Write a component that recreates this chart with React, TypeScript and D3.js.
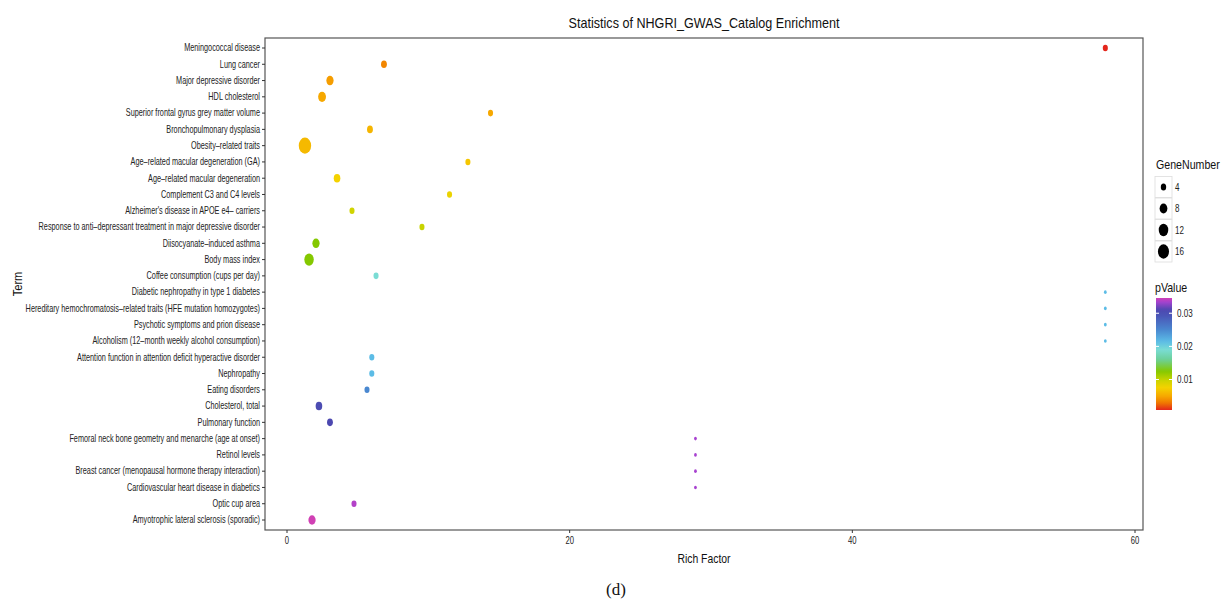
import React from "react";
import * as d3 from "d3";

const terms = [
  "Meningococcal disease",
  "Lung cancer",
  "Major depressive disorder",
  "HDL cholesterol",
  "Superior frontal gyrus grey matter volume",
  "Bronchopulmonary dysplasia",
  "Obesity\u2013related traits",
  "Age\u2013related macular degeneration (GA)",
  "Age\u2013related macular degeneration",
  "Complement C3 and C4 levels",
  "Alzheimer's disease in APOE e4\u2013 carriers",
  "Response to anti\u2013depressant treatment in major depressive disorder",
  "Diisocyanate\u2013induced asthma",
  "Body mass index",
  "Coffee consumption (cups per day)",
  "Diabetic nephropathy in type 1 diabetes",
  "Hereditary hemochromatosis\u2013related traits (HFE mutation homozygotes)",
  "Psychotic symptoms and prion disease",
  "Alcoholism (12\u2013month weekly alcohol consumption)",
  "Attention function in attention deficit hyperactive disorder",
  "Nephropathy",
  "Eating disorders",
  "Cholesterol, total",
  "Pulmonary function",
  "Femoral neck bone geometry and menarche (age at onset)",
  "Retinol levels",
  "Breast cancer (menopausal hormone therapy interaction)",
  "Cardiovascular heart disease in diabetics",
  "Optic cup area",
  "Amyotrophic lateral sclerosis (sporadic)",
];

const richFactor = [
  57.9, 6.86, 3.04, 2.48, 14.4, 5.87, 1.27, 12.8, 3.54, 11.5,
  4.6, 9.55, 2.05, 1.56, 6.3, 57.9, 57.9, 57.9, 57.9, 6.0,
  6.0, 5.66, 2.26, 3.04, 28.9, 28.9, 28.9, 28.9, 4.74, 1.77,
];

const geneNumber = [
  3, 4, 6, 7, 3, 4, 17, 3, 5, 3,
  3, 3, 6, 10, 3, 1, 1, 1, 1, 3,
  3, 3, 5, 4, 1, 1, 1, 1, 3, 6,
];

const pValue = [
  0.0008, 0.0035, 0.0045, 0.005, 0.005, 0.0058, 0.006, 0.0068, 0.0075, 0.008,
  0.0095, 0.0098, 0.0125, 0.0125, 0.019, 0.0215, 0.0215, 0.0215, 0.0215, 0.0215,
  0.0215, 0.025, 0.0305, 0.031, 0.0335, 0.0335, 0.0335, 0.0335, 0.0338, 0.0346,
];

const xTicks = [0, 20, 40, 60];
const sizeBreaks = [4, 8, 12, 16];
const pBreaks = [0.01, 0.02, 0.03];

const colorStops = [0.0008, 0.003, 0.005, 0.0075, 0.0095, 0.0125, 0.016, 0.019, 0.0215, 0.025, 0.029, 0.031, 0.0335, 0.0346];
const colorValues = ["#e4261c", "#f07a00", "#f6a800", "#f4d200", "#d0d400", "#84c800", "#6cd098", "#7adcd4", "#5cbce6", "#4a88d0", "#4a58b8", "#4c48b0", "#a842d0", "#d040b4"];

const FONT = "'Liberation Sans', Arial, sans-serif";
const SX = 0.73;
const STRETCH = 1.3;

export default function App() {
  const W = 1225, H = 610;
  const panel = { left: 265, right: 1143, top: 38, bottom: 530 };
  const x = d3.scaleLinear().domain([0, 60]).range([287, 1135]);
  const y = d3.scalePoint<string>().domain(terms).range([48, 520]);
  const r = d3.scaleSqrt().domain([1, 17]).range([1.4, 6.2]);
  const color = d3.scaleLinear<string>().domain(colorStops).range(colorValues).interpolate(d3.interpolateRgb).clamp(true);
  const pScale = d3.scaleLinear().domain([0.0008, 0.0346]).range([410, 298]);
  const gradStops = d3.range(0, 1.0001, 0.02).map((t) => {
    const v = 0.0008 + t * (0.0346 - 0.0008);
    return { off: t, c: color(v) };
  });
  const midX = (panel.left + panel.right) / 2;

  return (
    <svg width={W} height={H} style={{ position: "absolute", left: 0, top: 0, background: "#fff" }} fontFamily={FONT}>
      <defs>
        <linearGradient id="pgrad" x1="0" y1="1" x2="0" y2="0">
          {gradStops.map((s, i) => (
            <stop key={i} offset={s.off} stopColor={s.c} />
          ))}
        </linearGradient>
      </defs>
      <rect x={0} y={0} width={W} height={H} fill="#fff" />
      {/* title */}
      <text transform={`translate(${midX},28) scale(0.9,1)`} textAnchor="middle" fontSize={14} fill="#111">
        Statistics of NHGRI_GWAS_Catalog Enrichment
      </text>
      {/* panel */}
      <rect x={panel.left} y={panel.top} width={panel.right - panel.left} height={panel.bottom - panel.top} fill="#fff" stroke="#555" strokeWidth={1.2} />
      {/* y ticks and labels */}
      {terms.map((t) => (
        <g key={t}>
          <line x1={panel.left - 3} x2={panel.left} y1={y(t)} y2={y(t)} stroke="#333" strokeWidth={1} />
          <text transform={`translate(${panel.left - 5},${(y(t) as number) + 3.3}) scale(${SX},1)`} textAnchor="end" fontSize={10} fill="#222">
            {t}
          </text>
        </g>
      ))}
      {/* x ticks */}
      {xTicks.map((v) => (
        <g key={v}>
          <line x1={x(v)} x2={x(v)} y1={panel.bottom} y2={panel.bottom + 3} stroke="#333" />
          <text transform={`translate(${x(v)},${panel.bottom + 14}) scale(${SX},1)`} textAnchor="middle" fontSize={10.5} fill="#222">
            {v}
          </text>
        </g>
      ))}
      {/* points */}
      {terms.map((t, i) => (
        <ellipse key={t} cx={x(richFactor[i])} cy={y(t)} rx={r(geneNumber[i])} ry={r(geneNumber[i]) * STRETCH} fill={color(pValue[i])} />
      ))}
      {/* axis titles */}
      <text transform={`translate(${midX},563) scale(0.8,1)`} textAnchor="middle" fontSize={13} fill="#111">
        Rich Factor
      </text>
      <text transform={`translate(22,${(panel.top + panel.bottom) / 2}) rotate(-90) scale(0.85,1)`} textAnchor="middle" fontSize={13} fill="#111">
        Term
      </text>
      {/* legend: GeneNumber */}
      <text transform={`translate(1156,169) scale(0.85,1)`} fontSize={12.5} fill="#111">
        GeneNumber
      </text>
      {sizeBreaks.map((s, i) => {
        const cy = 187 + i * 21.5;
        return (
          <g key={s}>
            <rect x={1155} y={cy - 10.5} width={17} height={21} fill="#fff" stroke="#ddd" strokeWidth={0.8} />
            <ellipse cx={1163.5} cy={cy} rx={r(s) * 0.92} ry={r(s) * 0.92 * STRETCH} fill="#000" />
            <text transform={`translate(1175,${cy + 3.5}) scale(${SX},1)`} fontSize={11} fill="#222">
              {s}
            </text>
          </g>
        );
      })}
      {/* legend: pValue */}
      <text transform={`translate(1155,292) scale(0.85,1)`} fontSize={12.5} fill="#111">
        pValue
      </text>
      <rect x={1156} y={298} width={16} height={112} fill="url(#pgrad)" />
      {pBreaks.map((p) => (
        <g key={p}>
          <line x1={1156} x2={1159} y1={pScale(p)} y2={pScale(p)} stroke="#fff" strokeWidth={1} />
          <line x1={1169} x2={1172} y1={pScale(p)} y2={pScale(p)} stroke="#fff" strokeWidth={1} />
          <text transform={`translate(1177,${pScale(p) + 3.5}) scale(${SX},1)`} fontSize={11} fill="#222">
            {p.toFixed(2)}
          </text>
        </g>
      ))}
      {/* caption */}
      <text x={616} y={595} textAnchor="middle" fontSize={17} fontFamily="'Liberation Serif', 'Times New Roman', serif" fill="#111">
        (d)
      </text>
    </svg>
  );
}
